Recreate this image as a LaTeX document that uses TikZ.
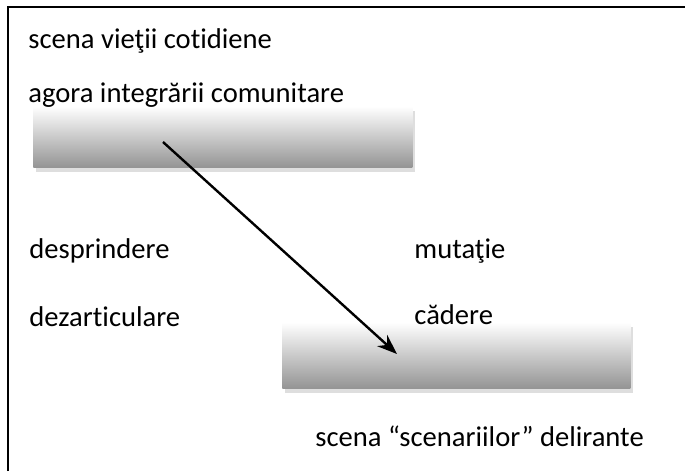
\documentclass[tikz,border=0pt]{standalone}
\usepackage{fontspec}
\setmainfont{Carlito}[Ligatures=NoCommon]
\usetikzlibrary{arrows.meta,shadows}

\tikzset{
  gradbox/.style={rectangle, anchor=north west, inner sep=0pt,
    top color=white, bottom color=black!42,
    drop shadow={shadow xshift=1.5pt, shadow yshift=-2.5pt, fill=black!13, opacity=1}},
  lbl/.style={anchor=base west, inner sep=0pt, font=\fontsize{14.3}{17}\selectfont},
}

\begin{document}
\begin{tikzpicture}[x=0.5pt,y=-0.5pt,>={Stealth[length=10pt,width=7.5pt]}]
	\useasboundingbox (0,0) rectangle (685,471);
	\draw[line width=1.3pt] (8,471)--(8,7)--(685,7);
	% shaded boxes
	\node[gradbox, minimum width=189.5pt, minimum height=30.5pt] (topbox) at (33,106) {};
	\node[gradbox, minimum width=174pt, minimum height=33pt] (lowbox) at (282,322) {};
	% texts
	\node[lbl] (viata) at (28,48) {scena vieţii cotidiene};
	\node[lbl] (agora) at (28,102) {agora integrării comunitare};
	\node[lbl] (despr) at (29,258) {desprindere};
	\node[lbl] (mutat) at (414,258) {mutaţie};
	\node[lbl] (dezart) at (29,326) {dezarticulare};
	\node[lbl] (cadere) at (414,324) {cădere};
	\node[lbl] (delir) at (315,446) {scena “scenariilor” delirante};
	% arrow
	\coordinate (src) at (163,142);
	\coordinate (dst) at (397,354);
	\draw[->,line width=1.2pt] (src)--(dst);
\end{tikzpicture}
\end{document}
